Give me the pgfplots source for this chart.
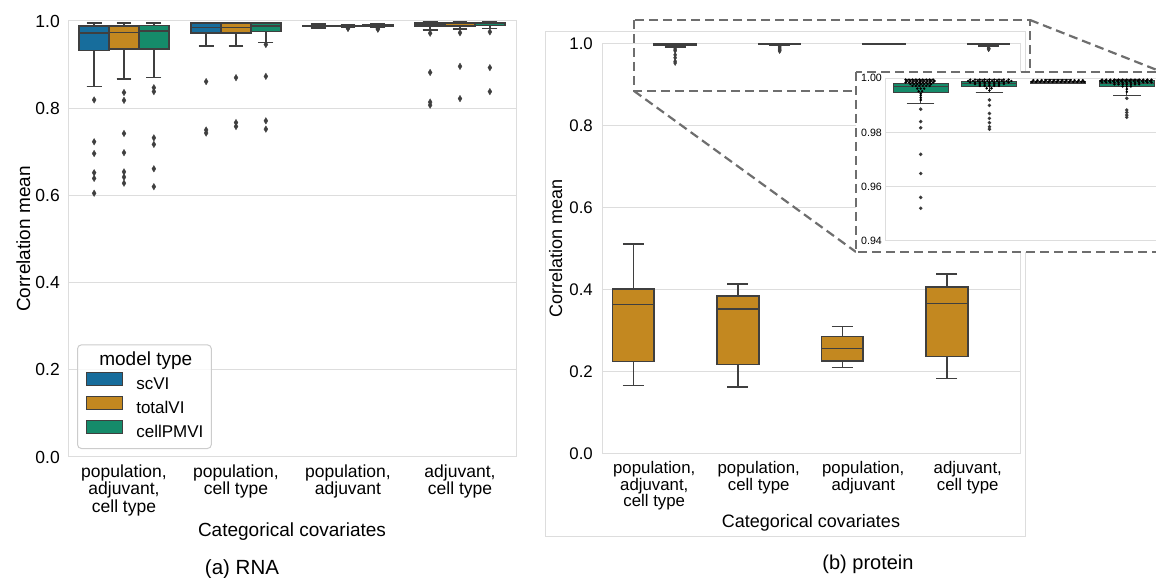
\documentclass[border=0pt]{standalone}
\usepackage{fontspec}
\setmainfont{Liberation Sans}
\usepackage{pgfplots}
\pgfplotsset{compat=1.18}
\usepgfplotslibrary{statistics}

\definecolor{cblue}{HTML}{176D9C}
\definecolor{corange}{HTML}{C38820}
\definecolor{cgreen}{HTML}{158B6A}
\definecolor{edge}{HTML}{3F3F3F}
\definecolor{gridc}{HTML}{DDDDDD}
\definecolor{dashc}{HTML}{6E6E6E}
\definecolor{legc}{HTML}{CCCCCC}

\newcommand{\fs}[1]{\fontsize{#1}{#1}\selectfont}

\pgfplotsset{
  sb/.style={
    scale only axis, clip=false,
    boxplot/draw direction=y,
    axis line style={draw=gridc, line width=1pt},
    major tick length=0pt,
    ymajorgrids, grid style={draw=gridc, line width=1pt},
    xmin=-0.5, xmax=3.5, ymin=0, ymax=1,
    xtick={0,1,2,3},
    ytick={0,0.2,0.4,0.6,0.8,1},
    yticklabels={0.0,0.2,0.4,0.6,0.8,1.0},
    xticklabels={{population,\\adjuvant,\\cell type},{population,\\cell type},{population,\\adjuvant},{adjuvant,\\cell type}},
    /pgf/number format/assume math mode=true,
    xlabel={Categorical covariates},
    ylabel={Correlation mean},
  },
  bxl/.style={forget plot, fill=#1, draw=edge, line width=1.6pt,
    mark=diamond*, mark size=3.3pt,
    mark options={fill=edge, draw=edge, line width=0.3pt, xscale=0.8}},
  bxr/.style={forget plot, fill=#1, draw=edge, line width=1.6pt,
    mark=diamond*, mark size=2.6pt,
    mark options={fill=edge, draw=edge, line width=0.3pt, xscale=0.8}},
  bxi/.style={forget plot, fill=#1, draw=edge, line width=1pt,
    mark=*, mark size=1.2pt, mark options={fill=black, draw=none}},
}

\begin{document}
\begin{tikzpicture}
\useasboundingbox (0pt,0pt) rectangle (1156pt,578pt);

% ---------------- (a) RNA ----------------
\begin{axis}[sb, at={(68pt,121pt)}, anchor=south west, width=448pt, height=436pt,
  ticklabel style={font=\fs{17.5}},
  xticklabel style={align=center, anchor=north, inner sep=0pt, yshift=-7.2pt},
  yticklabel style={anchor=east, inner sep=0pt, xshift=-8pt},
  xlabel style={font=\fs{19}, at={(axis description cs:0.5,0)}, anchor=base, yshift=-79pt},
  ylabel style={font=\fs{19}, at={(axis description cs:-0.0848,0.5)}, anchor=base},
  legend style={at={(axis description cs:0.0201,0.0183)}, anchor=south west,
    draw=legc, line width=1pt, rounded corners=4pt, fill=white, fill opacity=0.8,
    draw opacity=1, text opacity=1, font=\fs{17}, inner xsep=8pt, inner ysep=8pt,
    row sep=3pt, nodes={inner sep=0pt, text height=12.5pt, text depth=3.5pt},
    /tikz/every odd column/.style={column sep=14pt}},
  legend cell align=left,
  legend image code/.code={\draw[sharp corners, fill opacity=1, draw=edge, line width=0.8pt, #1] (0pt,-0.5pt) rectangle (36pt,12.5pt);},
]
% pop, adj, cell type
\addplot[bxl=cblue, boxplot prepared={draw position=-0.2667, lower whisker=0.850, lower quartile=0.932, median=0.972, upper quartile=0.989, upper whisker=0.995, box extend=0.2667, whisker extend=0.1333}]
  table[row sep=\\, y index=0] {y\\0.819\\0.723\\0.696\\0.652\\0.639\\0.605\\};
\addplot[bxl=corange, boxplot prepared={draw position=0, lower whisker=0.867, lower quartile=0.936, median=0.974, upper quartile=0.988, upper whisker=0.995, box extend=0.2667, whisker extend=0.1333}]
  table[row sep=\\, y index=0] {y\\0.836\\0.818\\0.742\\0.698\\0.654\\0.642\\0.628\\};
\addplot[bxl=cgreen, boxplot prepared={draw position=0.2667, lower whisker=0.870, lower quartile=0.936, median=0.977, upper quartile=0.990, upper whisker=0.995, box extend=0.2667, whisker extend=0.1333}]
  table[row sep=\\, y index=0] {y\\0.847\\0.838\\0.732\\0.717\\0.661\\0.620\\};
% pop, cell type
\addplot[bxl=cblue, boxplot prepared={draw position=0.7333, lower whisker=0.942, lower quartile=0.973, median=0.985, upper quartile=0.995, upper whisker=0.997, box extend=0.2667, whisker extend=0.1333}]
  table[row sep=\\, y index=0] {y\\0.861\\0.750\\0.743\\};
\addplot[bxl=corange, boxplot prepared={draw position=1, lower whisker=0.942, lower quartile=0.973, median=0.985, upper quartile=0.995, upper whisker=0.997, box extend=0.2667, whisker extend=0.1333}]
  table[row sep=\\, y index=0] {y\\0.870\\0.767\\0.758\\};
\addplot[bxl=cgreen, boxplot prepared={draw position=1.2667, lower whisker=0.951, lower quartile=0.976, median=0.988, upper quartile=0.995, upper whisker=0.997, box extend=0.2667, whisker extend=0.1333}]
  table[row sep=\\, y index=0] {y\\0.946\\0.873\\0.771\\0.752\\};
% pop, adj
\addplot[bxl=cblue, boxplot prepared={draw position=1.7333, lower whisker=0.984, lower quartile=0.987, median=0.989, upper quartile=0.990, upper whisker=0.993, box extend=0.2667, whisker extend=0.1333}]
  coordinates {};
\addplot[bxl=corange, boxplot prepared={draw position=2, lower whisker=0.986, lower quartile=0.988, median=0.989, upper quartile=0.990, upper whisker=0.992, box extend=0.2667, whisker extend=0.1333}]
  table[row sep=\\, y index=0] {y\\0.983\\0.984\\};
\addplot[bxl=cgreen, boxplot prepared={draw position=2.2667, lower whisker=0.986, lower quartile=0.988, median=0.9895, upper quartile=0.991, upper whisker=0.993, box extend=0.2667, whisker extend=0.1333}]
  table[row sep=\\, y index=0] {y\\0.981\\0.983\\};
% adj, cell type
\addplot[bxl=cblue, boxplot prepared={draw position=2.7333, lower whisker=0.980, lower quartile=0.988, median=0.993, upper quartile=0.995, upper whisker=0.998, box extend=0.2667, whisker extend=0.1333}]
  table[row sep=\\, y index=0] {y\\0.972\\0.882\\0.814\\0.807\\};
\addplot[bxl=corange, boxplot prepared={draw position=3, lower whisker=0.981, lower quartile=0.988, median=0.994, upper quartile=0.996, upper whisker=0.998, box extend=0.2667, whisker extend=0.1333}]
  table[row sep=\\, y index=0] {y\\0.973\\0.896\\0.822\\};
\addplot[bxl=cgreen, boxplot prepared={draw position=3.2667, lower whisker=0.983, lower quartile=0.990, median=0.995, upper quartile=0.997, upper whisker=0.998, box extend=0.2667, whisker extend=0.1333}]
  table[row sep=\\, y index=0] {y\\0.975\\0.893\\0.838\\};

\addlegendimage{empty legend}\addlegendentry{\hspace*{-37pt}\fs{19}model type}
\addlegendimage{fill=cblue}\addlegendentry{scVI}
\addlegendimage{fill=corange}\addlegendentry{totalVI}
\addlegendimage{fill=cgreen}\addlegendentry{cellPMVI}
\end{axis}

% ---------------- (b) protein ----------------
\draw[gridc, line width=1pt] (545pt,41pt) rectangle (1025pt,546.5pt);

\begin{axis}[sb, at={(602pt,124.7pt)}, anchor=south west, width=418pt, height=410pt,
  ticklabel style={font=\fs{16.8}},
  xticklabel style={align=center, anchor=north, inner sep=0pt, yshift=-7.7pt},
  yticklabel style={anchor=east, inner sep=0pt, xshift=-9pt},
  xlabel style={font=\fs{18}, at={(axis description cs:0.5,0)}, anchor=base, yshift=-74pt},
  ylabel style={font=\fs{18}, at={(axis description cs:-0.0957,0.5)}, anchor=base},
]
\addplot[bxr=corange, boxplot prepared={draw position=-0.2, lower whisker=0.165, lower quartile=0.224, median=0.363, upper quartile=0.401, upper whisker=0.510, box extend=0.4, whisker extend=0.2}] coordinates {};
\addplot[bxr=corange, boxplot prepared={draw position=0.8, lower whisker=0.162, lower quartile=0.217, median=0.352, upper quartile=0.384, upper whisker=0.413, box extend=0.4, whisker extend=0.2}] coordinates {};
\addplot[bxr=corange, boxplot prepared={draw position=1.8, lower whisker=0.209, lower quartile=0.225, median=0.256, upper quartile=0.285, upper whisker=0.309, box extend=0.4, whisker extend=0.2}] coordinates {};
\addplot[bxr=corange, boxplot prepared={draw position=2.8, lower whisker=0.182, lower quartile=0.236, median=0.365, upper quartile=0.406, upper whisker=0.437, box extend=0.4, whisker extend=0.2}] coordinates {};

\addplot[bxr=cgreen, boxplot prepared={draw position=0.2, lower whisker=0.9907, lower quartile=0.9948, median=0.9970, upper quartile=0.9981, upper whisker=0.9996, box extend=0.4, whisker extend=0.2}]
  table[row sep=\\, y index=0] {y\\0.9886\\0.984\\0.9817\\0.9719\\0.9648\\0.956\\0.952\\};
\addplot[bxr=cgreen, boxplot prepared={draw position=1.2, lower whisker=0.9948, lower quartile=0.9969, median=0.9980, upper quartile=0.9990, upper whisker=0.9996, box extend=0.4, whisker extend=0.2}]
  table[row sep=\\, y index=0] {y\\0.992\\0.990\\0.987\\0.9852\\0.9836\\0.9821\\0.9812\\};
\addplot[bxr=cgreen, boxplot prepared={draw position=2.2, lower whisker=0.9980, lower quartile=0.9982, median=0.9985, upper quartile=0.9989, upper whisker=0.9995, box extend=0.4, whisker extend=0.2}] coordinates {};
\addplot[bxr=cgreen, boxplot prepared={draw position=3.2, lower whisker=0.9938, lower quartile=0.9969, median=0.9982, upper quartile=0.9991, upper whisker=0.9996, box extend=0.4, whisker extend=0.2}]
  table[row sep=\\, y index=0] {y\\0.9926\\0.9883\\0.9874\\0.9864\\0.9856\\};
\end{axis}

% zoom indication
\draw[dashc, line width=2.2pt, dash pattern=on 9pt off 5pt] (634pt,558pt) rectangle (1030pt,487pt);
\draw[dashc, line width=2.2pt, dash pattern=on 9pt off 5pt] (1030pt,558pt) -- (1162pt,506pt);
\draw[dashc, line width=2.2pt, dash pattern=on 9pt off 5pt] (634pt,487pt) -- (856pt,326pt);
\draw[dashc, line width=2.2pt, dash pattern=on 9pt off 5pt, fill=white] (856pt,506pt) rectangle (1162pt,326pt);

% inset
\begin{axis}[scale only axis, clip=false, at={(885pt,337.3pt)}, anchor=south west, width=277.5pt, height=162.4pt,
  boxplot/draw direction=y,
  xmin=-0.52, xmax=3.52, ymin=0.94, ymax=1.0,
  axis line style={draw=gridc, line width=1pt}, major tick length=0pt,
  ymajorgrids, grid style={draw=gridc, line width=1pt},
  xtick=\empty, ytick={0.94,0.96,0.98,1.0}, yticklabels={0.94,0.96,0.98,1.00},
  yticklabel style={font=\fs{10.6}, anchor=east, inner sep=0pt, xshift=-3pt},
  axis background/.style={fill=white},
]
\addplot[bxi=cgreen, boxplot prepared={draw position=0, lower whisker=0.9907, lower quartile=0.9948, median=0.9970, upper quartile=0.9981, upper whisker=0.9996, box extend=0.8, whisker extend=0.4}]
  table[row sep=\\, y index=0] {y\\0.9886\\0.984\\0.9817\\0.9719\\0.9648\\0.956\\0.952\\};
\addplot[bxi=cgreen, boxplot prepared={draw position=1, lower whisker=0.9948, lower quartile=0.9969, median=0.9980, upper quartile=0.9990, upper whisker=0.9996, box extend=0.8, whisker extend=0.4}]
  table[row sep=\\, y index=0] {y\\0.992\\0.990\\0.987\\0.9852\\0.9836\\0.9821\\0.9812\\};
\addplot[bxi=cgreen, boxplot prepared={draw position=2, lower whisker=0.9980, lower quartile=0.9982, median=0.9985, upper quartile=0.9989, upper whisker=0.9995, box extend=0.8, whisker extend=0.4}] coordinates {};
\addplot[bxi=cgreen, boxplot prepared={draw position=3, lower whisker=0.9938, lower quartile=0.9969, median=0.9982, upper quartile=0.9991, upper whisker=0.9996, box extend=0.8, whisker extend=0.4}]
  table[row sep=\\, y index=0] {y\\0.9926\\0.9883\\0.9874\\0.9864\\0.9856\\};
% swarm of individual values
\addplot[only marks, mark=*, mark size=1.05pt, black, forget plot] coordinates {
 (-0.22,0.9995) (-0.17,0.9995) (-0.12,0.9995) (-0.07,0.9995) (-0.02,0.9995) (0.03,0.9995) (0.08,0.9995) (0.13,0.9995) (0.18,0.9995)
 (-0.20,0.9990) (-0.15,0.9990) (-0.10,0.9990) (-0.05,0.9990) (0,0.9990) (0.05,0.9990) (0.10,0.9990) (0.15,0.9990) (0.20,0.9990)
 (-0.22,0.9985) (-0.17,0.9985) (-0.12,0.9985) (-0.07,0.9985) (-0.02,0.9985) (0.03,0.9985) (0.08,0.9985) (0.13,0.9985) (0.18,0.9985)
 (-0.15,0.9979) (-0.10,0.9979) (-0.05,0.9979) (0,0.9979) (0.05,0.9979) (0.10,0.9979) (0.15,0.9979)
 (-0.12,0.9972) (-0.07,0.9972) (-0.02,0.9972) (0.03,0.9972) (0.08,0.9972) (0.13,0.9972)
 (-0.05,0.9962) (0,0.9962) (0.05,0.9962) (-0.03,0.9952) (0.02,0.9952)
 (0,0.9943) (0,0.9936) (0,0.9928) (0,0.9920)
 (0.72,0.9995) (0.79,0.9995) (0.86,0.9995) (0.93,0.9995) (1.00,0.9995) (1.07,0.9995) (1.14,0.9995) (1.21,0.9995) (1.28,0.9995)
 (0.69,0.9990) (0.76,0.9990) (0.83,0.9990) (0.90,0.9990) (0.97,0.9990) (1.04,0.9990) (1.11,0.9990) (1.18,0.9990) (1.25,0.9990) (1.32,0.9990)
 (0.72,0.9985) (0.79,0.9985) (0.86,0.9985) (0.93,0.9985) (1.00,0.9985) (1.07,0.9985) (1.14,0.9985) (1.21,0.9985) (1.28,0.9985)
 (0.79,0.9979) (0.86,0.9979) (0.93,0.9979) (1.00,0.9979) (1.07,0.9979) (1.14,0.9979) (1.21,0.9979)
 (0.86,0.9972) (0.93,0.9972) (1.00,0.9972) (1.07,0.9972) (1.14,0.9972)
 (0.96,0.9963) (1.03,0.9963) (1.00,0.9955)
 (1.64,0.9993) (1.70,0.9993) (1.76,0.9993) (1.82,0.9993) (1.88,0.9993) (1.94,0.9993) (2.00,0.9993) (2.06,0.9993) (2.12,0.9993) (2.18,0.9993) (2.24,0.9993) (2.30,0.9993) (2.36,0.9993)
 (1.62,0.9987) (1.68,0.9987) (1.74,0.9987) (1.80,0.9987) (1.86,0.9987) (1.92,0.9987) (1.98,0.9987) (2.04,0.9987) (2.10,0.9987) (2.16,0.9987) (2.22,0.9987) (2.28,0.9987) (2.34,0.9987) (2.38,0.9987)
 (2.64,0.9995) (2.70,0.9995) (2.76,0.9995) (2.82,0.9995) (2.88,0.9995) (2.94,0.9995) (3.00,0.9995) (3.06,0.9995) (3.12,0.9995) (3.18,0.9995) (3.24,0.9995) (3.30,0.9995) (3.36,0.9995)
 (2.62,0.9990) (2.68,0.9990) (2.74,0.9990) (2.80,0.9990) (2.86,0.9990) (2.92,0.9990) (2.98,0.9990) (3.04,0.9990) (3.10,0.9990) (3.16,0.9990) (3.22,0.9990) (3.28,0.9990) (3.34,0.9990)
 (2.64,0.9985) (2.70,0.9985) (2.76,0.9985) (2.82,0.9985) (2.88,0.9985) (2.94,0.9985) (3.00,0.9985) (3.06,0.9985) (3.12,0.9985) (3.18,0.9985) (3.24,0.9985) (3.30,0.9985) (3.36,0.9985)
 (2.82,0.9978) (2.88,0.9978) (2.94,0.9978) (3.00,0.9978) (3.06,0.9978) (3.12,0.9978) (3.18,0.9978)
 (2.94,0.9970) (3.00,0.9970) (3.06,0.9970) (3.00,0.9960) (3.00,0.9950)
};
\end{axis}

\node[font=\fs{20.5}, anchor=base] at (242pt,3pt) {(a) RNA};
\node[font=\fs{20}, anchor=base] at (868pt,9pt) {(b) protein};
\end{tikzpicture}
\end{document}
